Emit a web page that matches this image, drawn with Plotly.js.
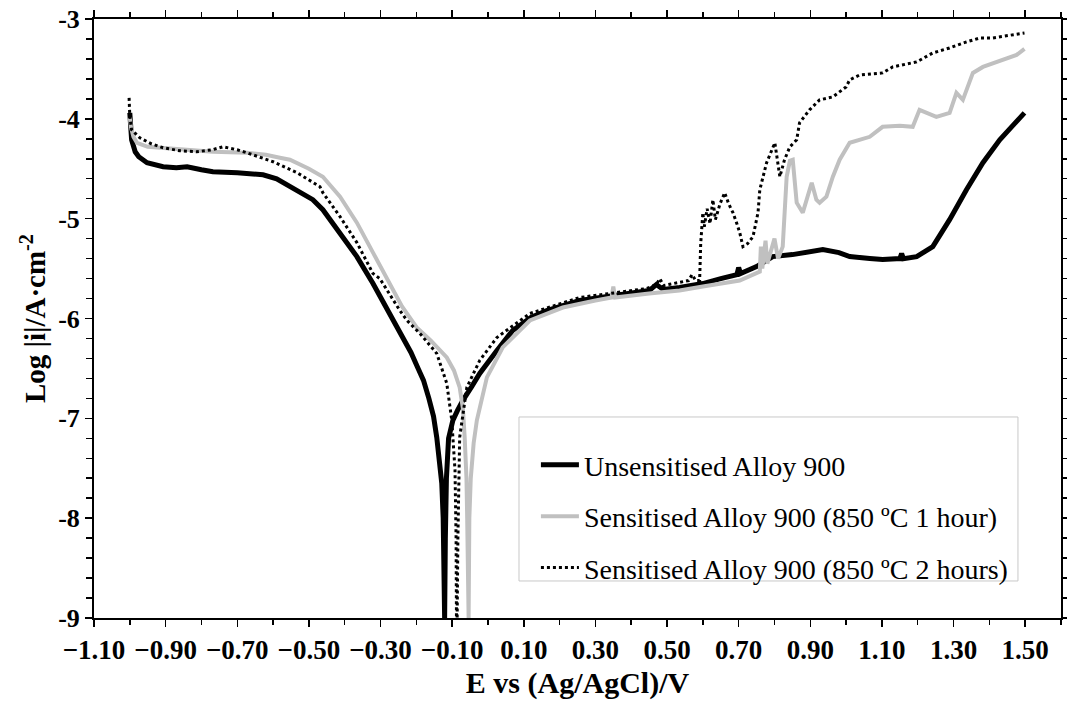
<!DOCTYPE html>
<html>
<head>
<meta charset="utf-8">
<script src="https://cdn.plot.ly/plotly-3.0.1.min.js"></script>
<style>html,body{margin:0;padding:0;background:#fff;}#chart{width:1067px;height:713px;}</style>
</head>
<body>
<div id="chart"></div>
<script>
// Unsensitised Alloy 900
const unsensE = [-1.000,-0.998,-0.995,-0.985,-0.975,-0.952,-0.907,-0.870,-0.840,-0.800,-0.768,-0.700,-0.628,-0.590,-0.553,-0.489,-0.461,-0.413,-0.366,-0.321,-0.290,-0.254,-0.235,-0.215,-0.195,-0.180,-0.165,-0.152,-0.143,-0.135,-0.129,-0.125,-0.123,
  -0.121,-0.119,-0.116,-0.110,-0.098,-0.085,-0.070,-0.045,-0.023,0.025,0.069,0.120,0.164,0.256,0.348,0.450,0.470,0.490,0.535,0.600,0.650,0.695,0.700,0.705,0.750,0.795,0.850,0.935,0.980,1.010,1.066,1.102,1.150,1.155,1.160,1.197,1.242,1.289,1.336,1.382,1.429,1.465,1.498];
const unsensI = [-3.94,-4.10,-4.21,-4.33,-4.38,-4.44,-4.48,-4.49,-4.48,-4.51,-4.53,-4.54,-4.56,-4.60,-4.68,-4.81,-4.91,-5.14,-5.38,-5.65,-5.85,-6.09,-6.22,-6.34,-6.50,-6.62,-6.80,-6.98,-7.19,-7.40,-7.65,-8.00,-9.00,
  -9.00,-8.20,-7.60,-7.20,-7.02,-6.92,-6.82,-6.68,-6.55,-6.32,-6.12,-5.99,-5.92,-5.82,-5.77,-5.72,-5.66,-5.71,-5.69,-5.65,-5.60,-5.56,-5.49,-5.55,-5.48,-5.38,-5.36,-5.31,-5.34,-5.38,-5.40,-5.41,-5.40,-5.35,-5.40,-5.38,-5.28,-5.01,-4.71,-4.44,-4.21,-4.07,-3.94];

// Sensitised Alloy 900 (850 ºC 1 hour)
const sens1E = [-1.000,-0.997,-0.990,-0.980,-0.950,-0.907,-0.850,-0.768,-0.673,-0.620,-0.581,-0.553,-0.500,-0.461,-0.413,-0.366,-0.321,-0.274,-0.240,-0.199,-0.160,-0.115,-0.095,-0.079,-0.070,-0.065,-0.060,-0.058,-0.056,
  -0.054,-0.052,-0.048,-0.040,-0.031,-0.003,0.041,0.117,0.209,0.300,0.345,0.350,0.355,0.450,0.535,0.600,0.703,0.759,0.762,0.766,0.775,0.780,0.800,0.810,0.823,0.834,0.843,0.851,0.862,0.879,0.904,0.917,0.926,0.945,0.963,0.982,1.010,1.066,1.102,1.150,1.186,1.205,1.252,1.289,1.308,1.326,1.354,1.382,1.420,1.457,1.476,1.498];
const sens1I = [-3.99,-4.08,-4.18,-4.24,-4.28,-4.29,-4.31,-4.33,-4.34,-4.36,-4.39,-4.41,-4.50,-4.58,-4.78,-5.04,-5.34,-5.65,-5.88,-6.09,-6.22,-6.39,-6.52,-6.69,-6.90,-7.19,-7.60,-8.00,-9.00,
  -9.00,-8.00,-7.60,-7.25,-7.02,-6.59,-6.29,-6.02,-5.89,-5.82,-5.79,-5.68,-5.79,-5.75,-5.72,-5.68,-5.62,-5.53,-5.28,-5.50,-5.22,-5.45,-5.20,-5.40,-5.28,-4.58,-4.42,-4.41,-4.84,-4.94,-4.64,-4.81,-4.84,-4.78,-4.58,-4.41,-4.24,-4.18,-4.08,-4.07,-4.08,-3.91,-3.98,-3.94,-3.74,-3.81,-3.54,-3.48,-3.43,-3.38,-3.36,-3.30];

// Sensitised Alloy 900 (850 ºC 2 hours)
const sens2E = [-1.002,-1.000,-0.995,-0.972,-0.940,-0.907,-0.860,-0.813,-0.770,-0.740,-0.700,-0.673,-0.600,-0.553,-0.533,-0.469,-0.461,-0.413,-0.366,-0.321,-0.302,-0.246,-0.226,-0.190,-0.143,-0.115,-0.101,-0.092,-0.089,-0.088,
  -0.086,-0.084,-0.082,-0.079,-0.059,-0.023,0.025,0.117,0.256,0.443,0.470,0.480,0.490,0.516,0.560,0.570,0.580,0.591,0.594,0.600,0.604,0.612,0.620,0.628,0.635,0.648,0.661,0.672,0.684,0.695,0.703,0.712,0.725,0.740,0.754,0.759,0.778,0.801,0.809,0.815,0.828,0.843,0.862,0.870,0.898,0.926,0.963,1.000,1.010,1.038,1.070,1.102,1.130,1.197,1.242,1.289,1.336,1.373,1.409,1.457,1.498];
const sens2I = [-3.79,-3.98,-4.11,-4.19,-4.25,-4.29,-4.32,-4.33,-4.31,-4.28,-4.31,-4.34,-4.43,-4.51,-4.54,-4.68,-4.74,-4.98,-5.24,-5.55,-5.60,-5.92,-6.02,-6.15,-6.35,-6.65,-7.02,-7.52,-8.20,-9.00,
  -9.00,-8.20,-7.60,-7.19,-6.69,-6.42,-6.19,-5.95,-5.79,-5.70,-5.66,-5.60,-5.67,-5.65,-5.62,-5.56,-5.62,-5.62,-5.25,-4.94,-5.08,-4.90,-5.05,-4.81,-5.01,-4.85,-4.74,-4.85,-4.94,-5.05,-5.14,-5.28,-5.25,-5.18,-4.94,-4.71,-4.44,-4.24,-4.44,-4.58,-4.41,-4.28,-4.21,-4.04,-3.91,-3.81,-3.78,-3.68,-3.61,-3.56,-3.55,-3.54,-3.48,-3.43,-3.34,-3.29,-3.23,-3.19,-3.19,-3.16,-3.14];

const seriesNames = ['Unsensitised Alloy 900','Sensitised Alloy 900 (850 ºC 1 hour)','Sensitised Alloy 900 (850 ºC 2 hours)'];
const xTitle = 'E vs (Ag/AgCl)/V';
const yTitle = 'Log |i|/A·cm<sup>-2</sup>';

// tick labels
const xTickVals = [-1.1,-0.9,-0.7,-0.5,-0.3,-0.1,0.1,0.3,0.5,0.7,0.9,1.1,1.3,1.5];
const xTickText = ['\u22121.10','\u22120.90','\u22120.70','\u22120.50','\u22120.30','\u22120.10','0.10','0.30','0.50','0.70','0.90','1.10','1.30','1.50'];
const xMinorVals = [-1.0,-0.8,-0.6,-0.4,-0.2,0.0,0.2,0.4,0.6,0.8,1.0,1.2,1.4,1.6];
const yTickVals = [-9,-8,-7,-6,-5,-4,-3];
const yTickText = ['-9','-8','-7','-6','-5','-4','-3'];
const yMinorVals = [];
for (let k = 0; k < 6; k++) { for (let m = 1; m < 5; m++) yMinorVals.push(yTickVals[k] + m * 0.2); }

const serif = 'Liberation Serif, Times New Roman, serif';

const traces = [
  {x: unsensE, y: unsensI, name: seriesNames[0], mode: 'lines', legendgroup: 'a',
   line: {color: '#000000', width: 5}},
  {x: sens1E, y: sens1I, name: seriesNames[1], mode: 'lines', legendgroup: 'b',
   line: {color: '#c0c0c0', width: 4}},
  {x: sens2E, y: sens2I, name: seriesNames[2], mode: 'lines', legendgroup: 'c',
   line: {color: '#000000', width: 3, dash: '3px,3px'}}
];

const layout = {
  width: 1067, height: 713,
  margin: {l: 94, r: 6, t: 19, b: 95},
  paper_bgcolor: '#ffffff', plot_bgcolor: '#ffffff',
  showlegend: true,
  xaxis: {
    range: [-1.1, 1.6], tickmode: 'array', tickvals: xTickVals, ticktext: xTickText,
    showgrid: false, zeroline: false, showline: true, linecolor: '#000', linewidth: 2,
    mirror: 'ticks', ticks: 'outside', ticklen: 7, tickwidth: 1.5, tickcolor: '#000',
    minor: {tickmode: 'array', tickvals: xMinorVals, ticks: 'outside', ticklen: 5, tickwidth: 1.5, tickcolor: '#000', showgrid: false},
    tickfont: {family: serif, size: 27, color: '#000', weight: 'bold'},
    title: {text: xTitle, font: {family: serif, size: 30, color: '#000', weight: 'bold'}, standoff: 8}
  },
  yaxis: {
    range: [-9, -3], tickmode: 'array', tickvals: yTickVals, ticktext: yTickText,
    showgrid: false, zeroline: false, showline: true, linecolor: '#000', linewidth: 2,
    mirror: 'ticks', ticks: 'outside', ticklen: 7, tickwidth: 1.5, tickcolor: '#000',
    minor: {tickmode: 'array', tickvals: yMinorVals, ticks: 'outside', ticklen: 6, tickwidth: 1.5, tickcolor: '#000', showgrid: false},
    tickfont: {family: serif, size: 26, color: '#000', weight: 'bold'},
    title: {text: yTitle, font: {family: serif, size: 29, color: '#000', weight: 'bold'}, standoff: 4}
  },
  shapes: [{
    type: 'rect', xref: 'paper', yref: 'paper', layer: 'below',
    x0: 0.4395, x1: 0.9555, y0: 0.0618, y1: 0.3356,
    line: {color: '#c8c8c8', width: 1}, fillcolor: '#ffffff'
  }],
  legend: {
    x: 0.457, y: 0.297, xanchor: 'left', yanchor: 'top',
    bgcolor: 'rgba(0,0,0,0)', borderwidth: 0,
    font: {family: serif, size: 28, color: '#000'},
    tracegroupgap: 12, itemwidth: 38
  }
};

Plotly.newPlot('chart', traces, layout, {displayModeBar: false, staticPlot: true});
</script>
</body>
</html>
